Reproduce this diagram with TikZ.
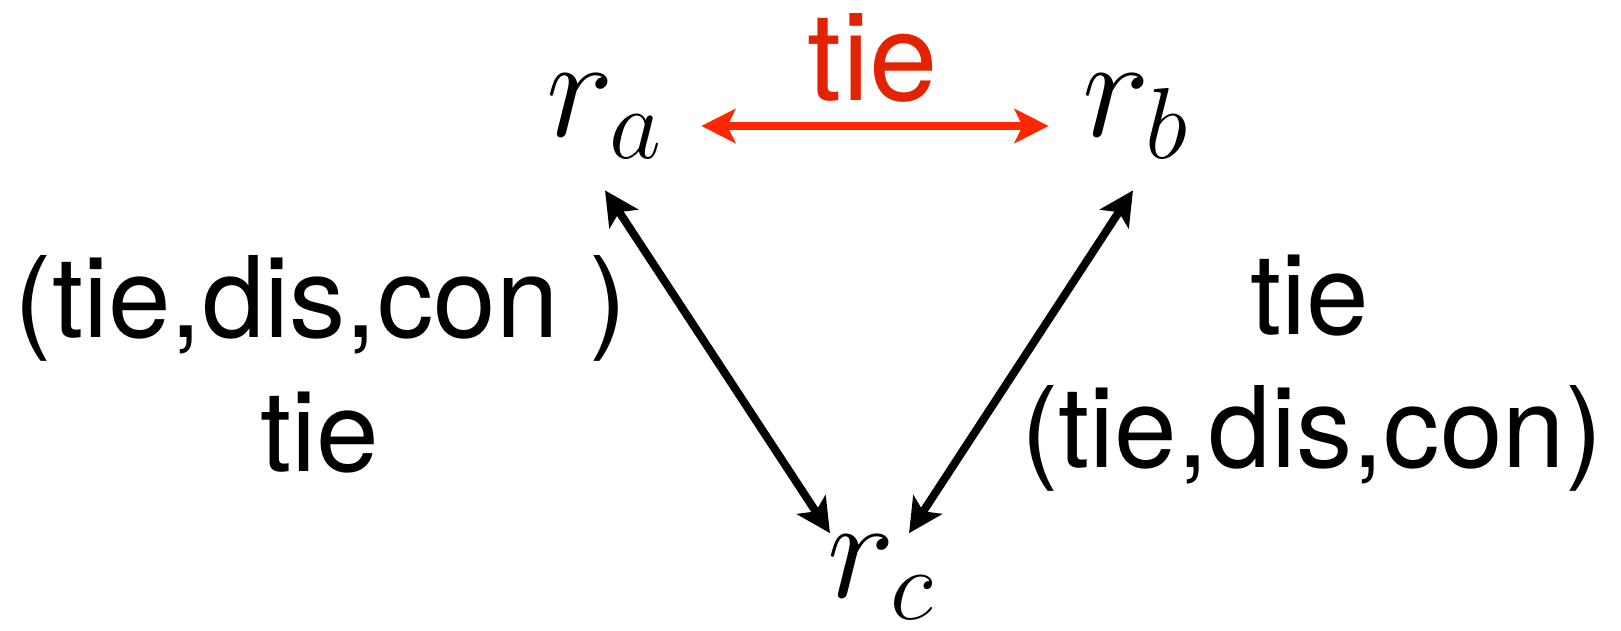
\RequirePackage{fix-cm}
\documentclass[tikz,border=0pt]{standalone}
\usepackage{fontspec}
\setmainfont{TeX Gyre Heros}
\usetikzlibrary{arrows.meta}
\definecolor{tiered}{RGB}{255,38,0}
\definecolor{tietext}{RGB}{226,34,0}

\begin{document}
\begin{tikzpicture}[x=0.01cm,y=-0.01cm,
  rel/.style={inner sep=0pt,anchor=base,font=\fontsize{41}{48}\selectfont},
  lbl/.style={inner sep=0pt,anchor=base,font=\fontsize{32}{38}\selectfont},
  link/.style={line width=0.08cm,
    {Stealth[length=0.34cm,width=0.34cm,inset=0.08cm]}-{Stealth[length=0.34cm,width=0.34cm,inset=0.08cm]}},
  tielink/.style={link,draw=tiered,fill=tiered,shorten <=0.37cm,shorten >=0.33cm},
  tielabel/.style={inner sep=0pt,anchor=base,text=tietext,font=\fontsize{35}{42}\selectfont}]
\useasboundingbox (0,0) rectangle (1621,631);
% the three relations
\node[rel] (ra) at (605,137) {$r_a$};
\node[rel] (rb) at (1136,137) {$r_b$};
\node[rel] (rc) at (881,598) {$r_c$};
% links between them
\draw[tielink] ([yshift=0.11cm]ra.base east) -- node[tielabel,yshift=0.25cm] {tie} ([yshift=0.11cm]rb.base west);
\draw[link] ([yshift=-0.31cm]ra.south) -- ([xshift=-0.51cm,yshift=0.02cm]rc.north);
\draw[link] ([xshift=-0.03cm,yshift=-0.31cm]rb.south) -- ([xshift=0.28cm,yshift=0.02cm]rc.north);
% labels of the side links
\node[lbl] (lac1) at (321,338) {(tie,dis,con )};
\node[lbl] (lac2) at (320,472) {tie};
\node[lbl] (lbc1) at (1310,335) {tie};
\node[lbl] (lbc2) at (1312,468) {(tie,dis,con)};
\end{tikzpicture}
\end{document}
